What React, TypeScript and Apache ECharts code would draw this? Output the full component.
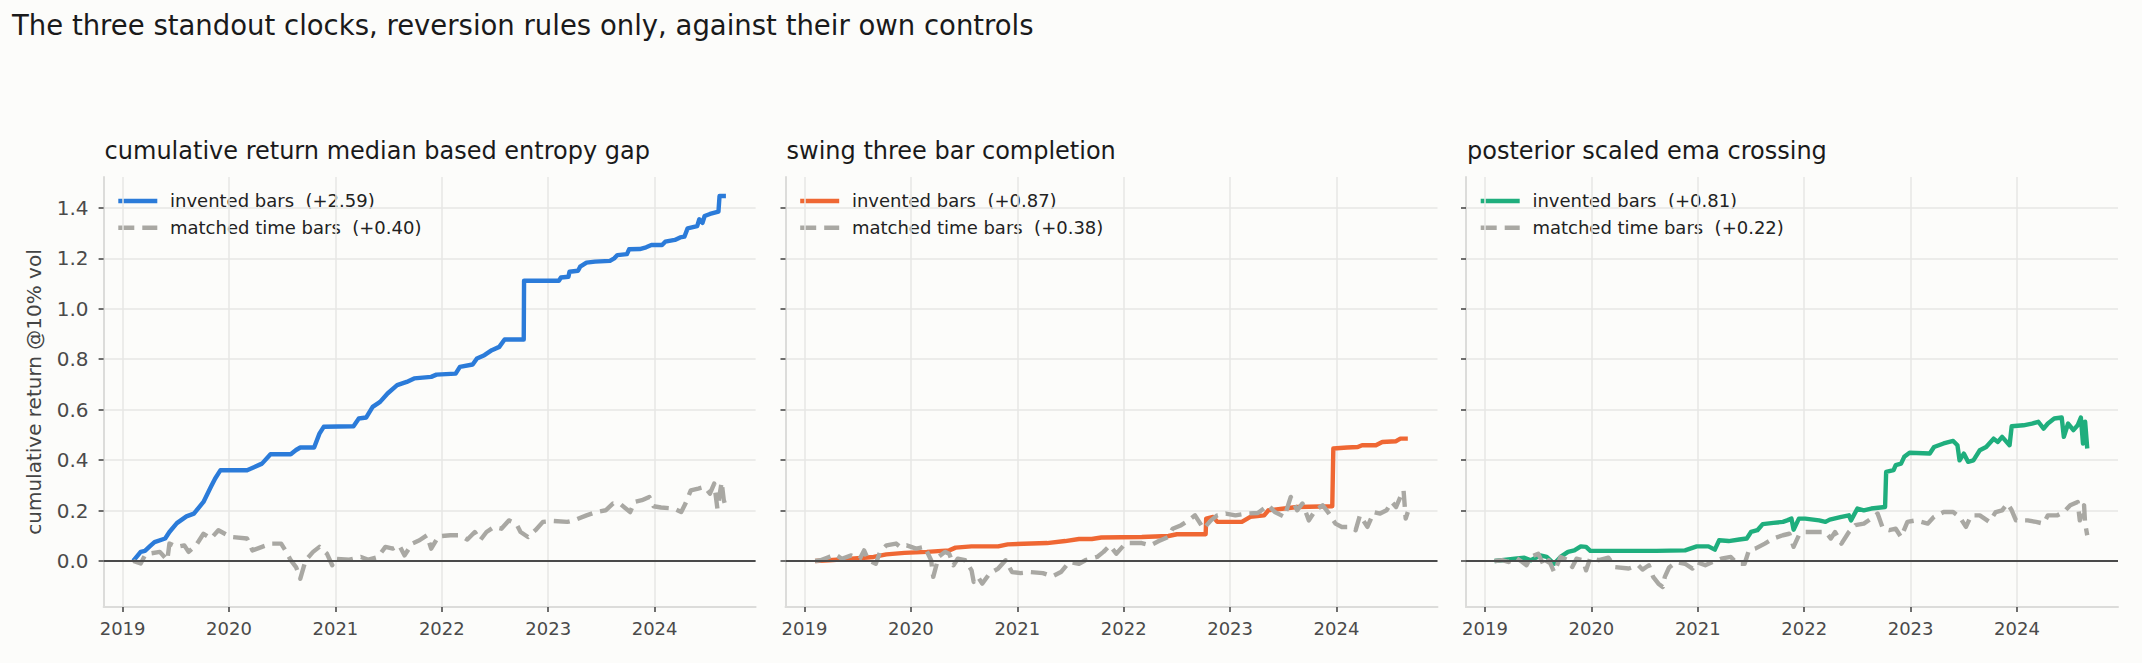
import React, { useEffect, useRef } from "react";
import * as echarts from "echarts";

const SUPTITLE = "The three standout clocks, reversion rules only, against their own controls";
const PANEL_TITLES = [
  "cumulative return median based entropy gap",
  "swing three bar completion",
  "posterior scaled ema crossing",
];
const INVENTED_LABELS = ["invented bars  (+2.59)", "invented bars  (+0.87)", "invented bars  (+0.81)"];
const MATCHED_LABELS = ["matched time bars  (+0.40)", "matched time bars  (+0.38)", "matched time bars  (+0.22)"];
const Y_NAME = "cumulative return @10% vol";
const Y_TICKS = [0, 0.2, 0.4, 0.6, 0.8, 1.0, 1.2, 1.4];
const X_TICKS = [2019, 2020, 2021, 2022, 2023, 2024];
const COLORS = ["#2b7bd9", "#ef6733", "#1fae7d"];
const GRAY = "#a9a8a3";

// panel 1: cumulative return median based entropy gap
const p1Invented: [number, number][] = [
  [2019.10, 0.000], [2019.17, 0.036], [2019.21, 0.040], [2019.26, 0.060], [2019.30, 0.075], [2019.40, 0.089],
  [2019.44, 0.115], [2019.51, 0.150], [2019.60, 0.177], [2019.67, 0.188], [2019.76, 0.234], [2019.83, 0.294],
  [2019.87, 0.327], [2019.92, 0.360], [2020.17, 0.360], [2020.24, 0.373], [2020.31, 0.386], [2020.39, 0.423],
  [2020.58, 0.423], [2020.63, 0.440], [2020.67, 0.450], [2020.80, 0.450], [2020.85, 0.505], [2020.89, 0.532],
  [2021.17, 0.534], [2021.22, 0.565], [2021.29, 0.569], [2021.35, 0.611], [2021.42, 0.631], [2021.49, 0.664],
  [2021.58, 0.697], [2021.67, 0.710], [2021.74, 0.724], [2021.90, 0.730], [2021.95, 0.739], [2022.13, 0.743],
  [2022.17, 0.770], [2022.29, 0.779], [2022.33, 0.803], [2022.40, 0.816], [2022.47, 0.836], [2022.54, 0.849],
  [2022.59, 0.878], [2022.77, 0.878], [2022.773, 1.111], [2023.10, 1.111], [2023.12, 1.124], [2023.19, 1.127],
  [2023.20, 1.147], [2023.28, 1.151], [2023.30, 1.167], [2023.36, 1.183], [2023.44, 1.187], [2023.58, 1.190],
  [2023.62, 1.200], [2023.65, 1.213], [2023.74, 1.217], [2023.76, 1.236], [2023.86, 1.237], [2023.92, 1.244],
  [2023.97, 1.253], [2024.07, 1.253], [2024.10, 1.266], [2024.19, 1.273], [2024.24, 1.283], [2024.28, 1.286],
  [2024.31, 1.319], [2024.40, 1.328], [2024.42, 1.355], [2024.45, 1.341], [2024.47, 1.368], [2024.52, 1.376],
  [2024.60, 1.385], [2024.61, 1.447], [2024.67, 1.447],
];
const p1Matched: [number, number][] = [
  [2019.10, 0.000], [2019.17, -0.010], [2019.21, 0.022], [2019.26, 0.030], [2019.35, 0.036], [2019.42, 0.003],
  [2019.44, 0.069], [2019.51, 0.056], [2019.58, 0.062], [2019.62, 0.036], [2019.69, 0.062], [2019.76, 0.108],
  [2019.83, 0.089], [2019.90, 0.122], [2019.97, 0.106], [2020.03, 0.095], [2020.17, 0.089], [2020.22, 0.042],
  [2020.31, 0.056], [2020.40, 0.069], [2020.49, 0.069], [2020.53, 0.042], [2020.58, 0.003], [2020.63, -0.024],
  [2020.67, -0.070], [2020.72, 0.003], [2020.79, 0.036], [2020.85, 0.056], [2020.92, 0.029], [2020.97, -0.017],
  [2020.99, 0.009], [2021.13, 0.005], [2021.24, 0.016], [2021.31, 0.005], [2021.40, 0.016], [2021.47, 0.056],
  [2021.54, 0.049], [2021.60, 0.062], [2021.65, 0.022], [2021.72, 0.069], [2021.79, 0.082], [2021.86, 0.102],
  [2021.90, 0.049], [2021.97, 0.098], [2022.08, 0.102], [2022.17, 0.102], [2022.24, 0.085], [2022.31, 0.115],
  [2022.36, 0.082], [2022.42, 0.115], [2022.49, 0.135], [2022.56, 0.128], [2022.63, 0.161], [2022.70, 0.148],
  [2022.74, 0.115], [2022.81, 0.095], [2022.88, 0.122], [2022.95, 0.155], [2023.04, 0.159], [2023.18, 0.155],
  [2023.24, 0.161], [2023.36, 0.181], [2023.45, 0.194], [2023.54, 0.201], [2023.61, 0.228], [2023.68, 0.225],
  [2023.77, 0.194], [2023.81, 0.234], [2023.88, 0.241], [2023.95, 0.254], [2023.99, 0.217], [2024.06, 0.212],
  [2024.18, 0.208], [2024.25, 0.194], [2024.29, 0.228], [2024.34, 0.280], [2024.41, 0.287], [2024.47, 0.294],
  [2024.52, 0.267], [2024.56, 0.307], [2024.59, 0.208], [2024.63, 0.313], [2024.65, 0.241], [2024.67, 0.214],
];

// panel 2: swing three bar completion
const p2Invented: [number, number][] = [
  [2019.10, 0.000], [2019.23, 0.003], [2019.44, 0.009], [2019.65, 0.016], [2019.77, 0.026], [2019.94, 0.032],
  [2020.15, 0.036], [2020.36, 0.042], [2020.42, 0.053], [2020.57, 0.058], [2020.82, 0.058], [2020.91, 0.066],
  [2021.28, 0.071], [2021.45, 0.079], [2021.58, 0.087], [2021.70, 0.087], [2021.79, 0.093], [2022.17, 0.095],
  [2022.42, 0.099], [2022.50, 0.106], [2022.77, 0.106], [2022.775, 0.168], [2022.84, 0.175], [2022.88, 0.155],
  [2023.11, 0.155], [2023.19, 0.175], [2023.32, 0.181], [2023.36, 0.201], [2023.51, 0.208], [2023.63, 0.214],
  [2023.96, 0.217], [2023.97, 0.446], [2024.10, 0.450], [2024.20, 0.452], [2024.24, 0.459], [2024.37, 0.459],
  [2024.43, 0.472], [2024.56, 0.475], [2024.60, 0.485], [2024.67, 0.485],
];
const p2Matched: [number, number][] = [
  [2019.10, 0.000], [2019.15, 0.003], [2019.23, 0.016], [2019.29, 0.026], [2019.35, 0.009], [2019.44, 0.022],
  [2019.52, 0.009], [2019.56, 0.042], [2019.60, 0.003], [2019.67, -0.011], [2019.71, 0.036], [2019.77, 0.062],
  [2019.86, 0.069], [2019.90, 0.056], [2019.96, 0.062], [2020.05, 0.049], [2020.13, 0.056], [2020.19, 0.003],
  [2020.21, -0.063], [2020.26, 0.016], [2020.32, 0.036], [2020.36, 0.029], [2020.40, -0.017], [2020.44, 0.009],
  [2020.51, 0.003], [2020.57, -0.037], [2020.59, -0.083], [2020.63, -0.063], [2020.67, -0.090], [2020.74, -0.050],
  [2020.82, -0.030], [2020.89, 0.003], [2020.95, -0.044], [2021.03, -0.048], [2021.12, -0.044], [2021.24, -0.048],
  [2021.33, -0.061], [2021.41, -0.044], [2021.49, -0.004], [2021.58, -0.011], [2021.64, 0.003], [2021.75, 0.016],
  [2021.81, 0.036], [2021.87, 0.062], [2021.93, 0.029], [2022.02, 0.071], [2022.17, 0.071], [2022.25, 0.062],
  [2022.33, 0.079], [2022.42, 0.095], [2022.46, 0.128], [2022.54, 0.142], [2022.61, 0.161], [2022.67, 0.181],
  [2022.75, 0.128], [2022.82, 0.161], [2022.88, 0.181], [2022.96, 0.188], [2023.05, 0.181], [2023.15, 0.188],
  [2023.26, 0.190], [2023.36, 0.221], [2023.42, 0.194], [2023.51, 0.175], [2023.57, 0.254], [2023.63, 0.201],
  [2023.68, 0.228], [2023.74, 0.161], [2023.80, 0.201], [2023.87, 0.221], [2023.93, 0.188], [2023.99, 0.148],
  [2024.05, 0.135], [2024.14, 0.135], [2024.18, 0.122], [2024.22, 0.181], [2024.29, 0.135], [2024.35, 0.194],
  [2024.41, 0.188], [2024.47, 0.201], [2024.52, 0.234], [2024.56, 0.214], [2024.60, 0.254], [2024.63, 0.280],
  [2024.65, 0.168], [2024.67, 0.194],
];

// panel 3: posterior scaled ema crossing
const p3Invented: [number, number][] = [
  [2019.09, 0.000], [2019.20, 0.005], [2019.28, 0.009], [2019.37, 0.013], [2019.43, 0.003], [2019.52, 0.022],
  [2019.58, 0.016], [2019.65, -0.011], [2019.71, 0.016], [2019.78, 0.036], [2019.84, 0.042], [2019.90, 0.058],
  [2019.95, 0.056], [2019.99, 0.040], [2020.18, 0.040], [2020.61, 0.040], [2020.88, 0.042], [2020.99, 0.058],
  [2021.10, 0.058], [2021.16, 0.045], [2021.20, 0.082], [2021.29, 0.079], [2021.39, 0.085], [2021.46, 0.089],
  [2021.50, 0.115], [2021.56, 0.122], [2021.61, 0.146], [2021.71, 0.151], [2021.80, 0.155], [2021.84, 0.161],
  [2021.88, 0.168], [2021.90, 0.124], [2021.95, 0.168], [2022.01, 0.168], [2022.14, 0.161], [2022.20, 0.155],
  [2022.24, 0.164], [2022.35, 0.175], [2022.42, 0.181], [2022.44, 0.161], [2022.50, 0.208], [2022.56, 0.201],
  [2022.63, 0.208], [2022.76, 0.214], [2022.77, 0.353], [2022.84, 0.360], [2022.86, 0.380], [2022.91, 0.386],
  [2022.94, 0.413], [2022.99, 0.429], [2023.18, 0.426], [2023.22, 0.452], [2023.31, 0.466], [2023.40, 0.476],
  [2023.44, 0.459], [2023.46, 0.399], [2023.50, 0.426], [2023.54, 0.393], [2023.59, 0.399], [2023.65, 0.439],
  [2023.71, 0.452], [2023.78, 0.485], [2023.82, 0.472], [2023.86, 0.492], [2023.93, 0.459], [2023.95, 0.534],
  [2024.06, 0.538], [2024.14, 0.545], [2024.20, 0.552], [2024.25, 0.525], [2024.29, 0.545], [2024.35, 0.565],
  [2024.42, 0.569], [2024.44, 0.492], [2024.48, 0.545], [2024.53, 0.519], [2024.57, 0.538], [2024.60, 0.569],
  [2024.62, 0.466], [2024.64, 0.552], [2024.66, 0.446],
];
const p3Matched: [number, number][] = [
  [2019.09, 0.000], [2019.16, 0.003], [2019.22, -0.004], [2019.29, 0.013], [2019.35, -0.004], [2019.39, -0.017],
  [2019.43, 0.016], [2019.50, 0.029], [2019.56, -0.024], [2019.60, 0.003], [2019.65, -0.044], [2019.71, 0.016],
  [2019.78, 0.003], [2019.82, -0.024], [2019.86, 0.009], [2019.92, 0.003], [2019.95, -0.037], [2019.99, 0.013],
  [2020.07, 0.003], [2020.16, 0.013], [2020.22, -0.024], [2020.35, -0.030], [2020.44, -0.017], [2020.48, -0.034],
  [2020.54, -0.017], [2020.58, -0.063], [2020.63, -0.090], [2020.67, -0.103], [2020.69, -0.063], [2020.73, -0.026],
  [2020.80, -0.004], [2020.88, -0.011], [2020.95, -0.030], [2020.99, -0.004], [2021.07, -0.017], [2021.14, -0.004],
  [2021.22, 0.009], [2021.31, 0.016], [2021.37, -0.011], [2021.44, -0.011], [2021.48, 0.042], [2021.54, 0.049],
  [2021.63, 0.069], [2021.71, 0.089], [2021.80, 0.102], [2021.86, 0.108], [2021.90, 0.056], [2021.95, 0.102],
  [2022.01, 0.115], [2022.14, 0.115], [2022.20, 0.115], [2022.25, 0.089], [2022.29, 0.115], [2022.35, 0.069],
  [2022.42, 0.115], [2022.48, 0.142], [2022.56, 0.148], [2022.63, 0.168], [2022.69, 0.188], [2022.74, 0.128],
  [2022.80, 0.122], [2022.86, 0.128], [2022.91, 0.095], [2022.97, 0.155], [2023.05, 0.161], [2023.16, 0.148],
  [2023.22, 0.175], [2023.31, 0.194], [2023.40, 0.194], [2023.46, 0.175], [2023.52, 0.135], [2023.57, 0.181],
  [2023.65, 0.181], [2023.74, 0.155], [2023.80, 0.194], [2023.86, 0.201], [2023.91, 0.228], [2023.95, 0.201],
  [2023.99, 0.161], [2024.10, 0.161], [2024.18, 0.155], [2024.25, 0.148], [2024.29, 0.181], [2024.38, 0.181],
  [2024.44, 0.194], [2024.50, 0.221], [2024.57, 0.234], [2024.59, 0.161], [2024.61, 0.194], [2024.63, 0.221],
  [2024.64, 0.148], [2024.66, 0.102],
];

const INVENTED = [p1Invented, p2Invented, p3Invented];
const MATCHED = [p1Matched, p2Matched, p3Matched];

const FONT = "DejaVu Sans";
const GRID_LEFTS = [103.6, 785.5, 1466];
const GRID_TOP = 177;
const GRID_W = 652;
const GRID_H = 430;
const X_MIN = 2018.8214;
const X_MAX = 2024.949;
const Y_MIN = -0.1825;
const Y_MAX = 1.5226;

export default function App() {
  const ref = useRef<HTMLDivElement>(null);
  useEffect(() => {
    if (!ref.current) return;
    const chart = echarts.init(ref.current, undefined, { renderer: "svg" });
    const gridLine = { show: true, lineStyle: { color: "#e7e7e5", width: 1.5 } };
    const spine = { show: true, onZero: false, lineStyle: { color: "#dcdcda", width: 2 } };
    const tick = { show: true, length: 5, lineStyle: { color: "#4a4a4a", width: 1.6 } };

    const grids = GRID_LEFTS.map((l) => ({ left: l, top: GRID_TOP, width: GRID_W, height: GRID_H }));
    const xAxes = GRID_LEFTS.map((_, i) => ({
      type: "value",
      gridIndex: i,
      min: X_MIN,
      max: X_MAX,
      axisLine: spine,
      axisTick: { ...tick, customValues: X_TICKS },
      axisLabel: {
        customValues: X_TICKS,
        formatter: (v: number) => String(Math.round(v)),
        fontSize: 18,
        color: "#4a4a4a",
        fontFamily: FONT,
        margin: 12,
      },
      splitLine: gridLine,
    }));
    const yAxes = GRID_LEFTS.map((_, i) => ({
      type: "value",
      gridIndex: i,
      min: Y_MIN,
      max: Y_MAX,
      axisLine: spine,
      axisTick: { ...tick, customValues: Y_TICKS },
      axisLabel: {
        show: i === 0,
        customValues: Y_TICKS,
        formatter: (v: number) => v.toFixed(1),
        fontSize: 20,
        color: "#4a4a4a",
        fontFamily: FONT,
        margin: 15,
      },
      splitLine: gridLine,
      name: i === 0 ? Y_NAME : "",
      nameLocation: "middle",
      nameGap: 60,
      nameTextStyle: { fontSize: 20, color: "#444", fontFamily: FONT },
    }));

    const series: any[] = [];
    GRID_LEFTS.forEach((_, i) => {
      series.push({
        type: "line",
        xAxisIndex: i,
        yAxisIndex: i,
        data: [],
        z: 1,
        markLine: {
          silent: true,
          symbol: ["none", "none"],
          label: { show: false },
          lineStyle: { color: "#4a4a4a", width: 2, type: "solid" },
          data: [{ yAxis: 0 }],
        },
      });
      series.push({
        name: INVENTED_LABELS[i],
        type: "line",
        xAxisIndex: i,
        yAxisIndex: i,
        data: INVENTED[i],
        symbol: "none",
        z: 3,
        lineStyle: { color: COLORS[i], width: 4.4, join: "round" },
        itemStyle: { color: COLORS[i] },
      });
      series.push({
        name: MATCHED_LABELS[i],
        type: "line",
        xAxisIndex: i,
        yAxisIndex: i,
        data: MATCHED[i],
        symbol: "none",
        z: 4,
        lineStyle: { color: GRAY, width: 4.4, type: [16, 8], join: "round" },
        itemStyle: { color: GRAY },
      });
    });

    const titles: any[] = [
      {
        text: SUPTITLE,
        left: 12,
        top: 11,
        padding: 0,
        textStyle: { fontSize: 27.5, fontWeight: "normal", color: "#1a1a1a", fontFamily: FONT },
      },
      ...GRID_LEFTS.map((l, i) => ({
        text: PANEL_TITLES[i],
        left: l + 1,
        top: 139,
        padding: 0,
        textStyle: { fontSize: 24, fontWeight: "normal", color: "#1a1a1a", fontFamily: FONT },
      })),
    ];

    const graphics: any[] = [];
    GRID_LEFTS.forEach((l, i) => {
      graphics.push({
        type: "line",
        shape: { x1: l + 14.7, y1: 201, x2: l + 53.7, y2: 201 },
        style: { stroke: COLORS[i], lineWidth: 4.4 },
      });
      graphics.push({
        type: "line",
        shape: { x1: l + 14.7, y1: 227.7, x2: l + 53.7, y2: 227.7 },
        style: { stroke: GRAY, lineWidth: 4.4, lineDash: [16, 8] },
      });
      graphics.push({
        type: "text",
        x: l + 66.4,
        y: 200.7,
        style: { text: INVENTED_LABELS[i], fontSize: 18, fill: "#222", fontFamily: FONT, verticalAlign: "middle" },
      });
      graphics.push({
        type: "text",
        x: l + 66.4,
        y: 227.3,
        style: { text: MATCHED_LABELS[i], fontSize: 18, fill: "#222", fontFamily: FONT, verticalAlign: "middle" },
      });
    });

    chart.setOption({
      animation: false,
      backgroundColor: "#fcfcfa",
      textStyle: { fontFamily: FONT },
      title: titles,
      grid: grids,
      xAxis: xAxes,
      yAxis: yAxes,
      series,
      graphic: graphics,
    });
    return () => chart.dispose();
  }, []);
  return <div ref={ref} style={{ position: "absolute", left: 0, top: 0, width: 2142, height: 663 }} />;
}
